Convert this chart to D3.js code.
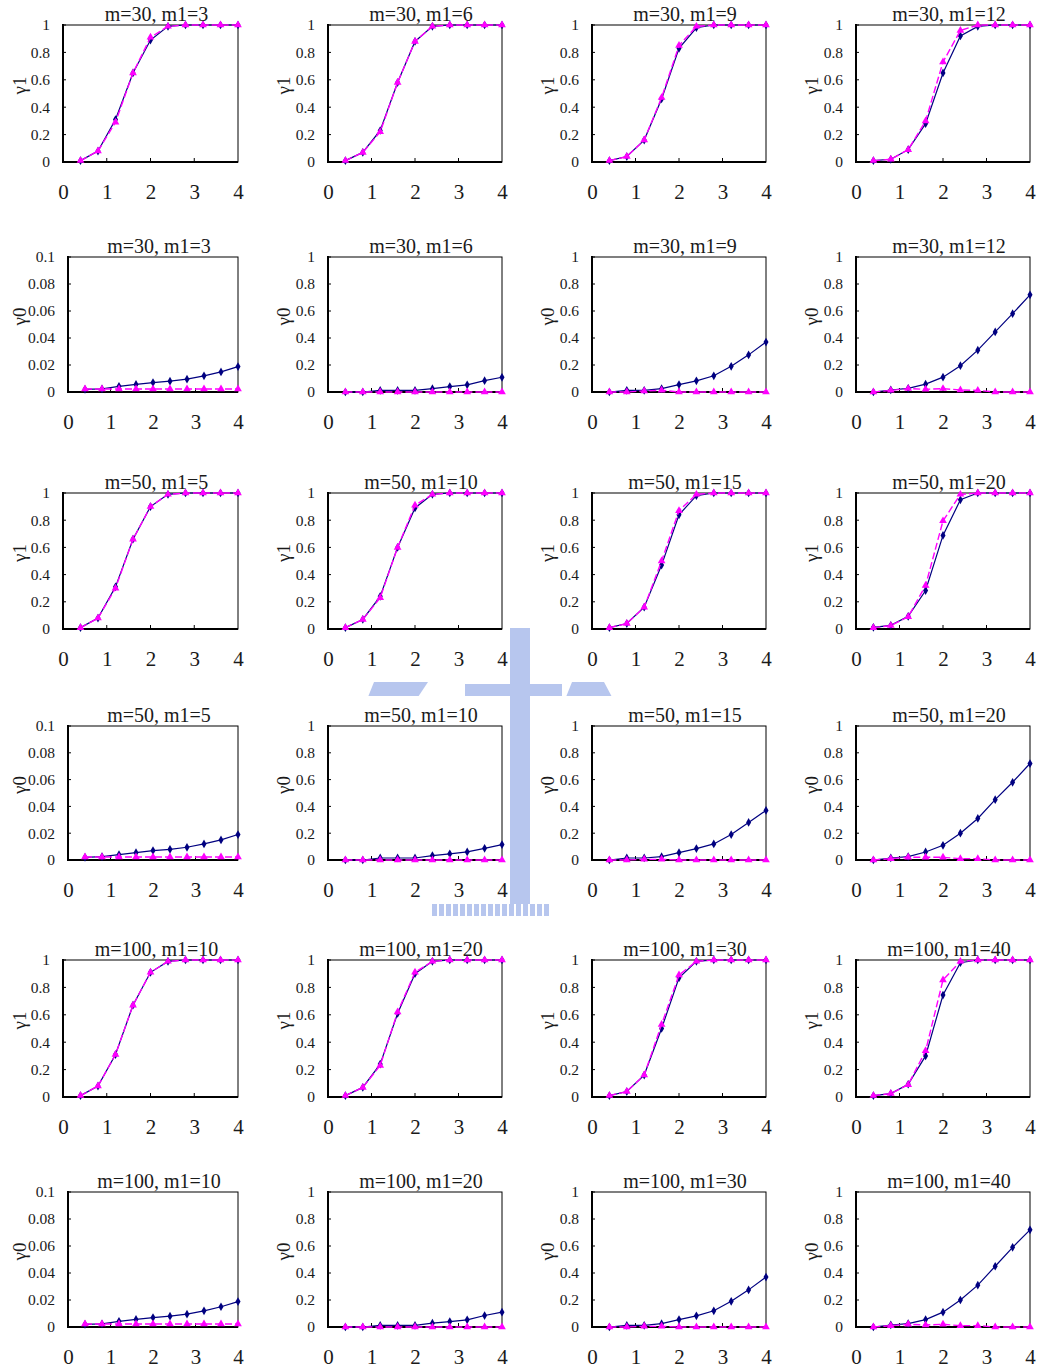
<!DOCTYPE html>
<html><head><meta charset="utf-8">
<script src="https://cdn.jsdelivr.net/npm/d3@7"></script>
<style>
body{margin:0;background:#fff}
svg{display:block}
text{font-family:"Liberation Serif","DejaVu Serif",serif;fill:#1a1a1a}
</style>
</head><body>
<svg id="c" width="1044" height="1371"></svg>
<script>
const xValues = [0.4,0.8,1.2,1.6,2.0,2.4,2.8,3.2,3.6,4.0];
const xTicks = [0,1,2,3,4];
const yTicksFull = [0,0.2,0.4,0.6,0.8,1];
const yTicksSmall = [0,0.02,0.04,0.06,0.08,0.1];
const mValues = [30,50,100];
const m1Values = [[3,6,9,12],[5,10,15,20],[10,20,30,40]];
const rowLabels = ["γ1","γ0","γ1","γ0","γ1","γ0"];

// m=30, gamma1
const r1Solid = [
  [0.01,0.08,0.31,0.65,0.89,0.99,1,1,1,1],
  [0.01,0.07,0.23,0.58,0.88,0.99,1,1,1,1],
  [0.01,0.04,0.16,0.46,0.83,0.98,1,1,1,1],
  [0.01,0.02,0.09,0.28,0.65,0.92,0.99,1,1,1]];
const r1Dashed = [
  [0.01,0.08,0.29,0.65,0.91,0.99,1,1,1,1],
  [0.01,0.07,0.22,0.58,0.88,0.99,1,1,1,1],
  [0.01,0.04,0.16,0.47,0.85,0.99,1,1,1,1],
  [0.01,0.02,0.09,0.30,0.73,0.96,1,1,1,1]];
// m=30, gamma0
const r2Solid = [
  [0.002,0.0023,0.0042,0.0056,0.007,0.008,0.0095,0.012,0.0149,0.0188],
  [0,0,0.012,0.012,0.012,0.025,0.04,0.053,0.084,0.109],
  [0,0.0125,0.012,0.025,0.055,0.083,0.12,0.19,0.275,0.37],
  [0,0.015,0.0275,0.058,0.11,0.195,0.31,0.445,0.58,0.72]];
const r2Dashed = [
  [0.0022,0.0022,0.0022,0.0022,0.0022,0.0022,0.0022,0.0022,0.0022,0.0022],
  [0,0,0,0,0,0,0,0,0,0],
  [0,0,0.008,0.013,0,0,0,0,0,0],
  [0,0.012,0.025,0.02,0.025,0.015,0.012,0,0,0]];
// m=50, gamma1
const r3Solid = [
  [0.01,0.08,0.31,0.66,0.90,0.99,1,1,1,1],
  [0.01,0.07,0.24,0.60,0.89,0.99,1,1,1,1],
  [0.01,0.04,0.16,0.47,0.84,0.98,1,1,1,1],
  [0.012,0.027,0.093,0.283,0.688,0.95,1,1,1,1]];
const r3Dashed = [
  [0.01,0.08,0.30,0.66,0.90,0.99,1,1,1,1],
  [0.01,0.07,0.23,0.60,0.91,0.99,1,1,1,1],
  [0.01,0.04,0.16,0.50,0.87,0.99,1,1,1,1],
  [0.01,0.025,0.09,0.32,0.795,0.99,1,1,1,1]];
// m=50, gamma0
const r4Solid = [
  [0.002,0.0025,0.004,0.0055,0.007,0.008,0.0095,0.012,0.015,0.019],
  [0,0,0.015,0.015,0.015,0.033,0.046,0.06,0.087,0.115],
  [0,0.015,0.015,0.025,0.055,0.085,0.12,0.19,0.28,0.37],
  [0,0.015,0.025,0.06,0.11,0.2,0.31,0.45,0.58,0.72]];
const r4Dashed = [
  [0.0022,0.0022,0.0022,0.0022,0.0022,0.0022,0.0022,0.0022,0.0022,0.0022],
  [0,0,0,0,0,0,0,0,0,0],
  [0,0,0.005,0.005,0,0,0,0,0,0],
  [0,0.01,0.02,0.02,0.02,0.01,0.01,0,0,0]];
// m=100, gamma1
const r5Solid = [
  [0.01,0.08,0.31,0.67,0.91,0.99,1,1,1,1],
  [0.01,0.07,0.24,0.61,0.90,0.99,1,1,1,1],
  [0.01,0.04,0.16,0.50,0.87,0.99,1,1,1,1],
  [0.01,0.025,0.093,0.30,0.744,0.98,1,1,1,1]];
const r5Dashed = [
  [0.01,0.08,0.31,0.67,0.91,0.99,1,1,1,1],
  [0.01,0.07,0.23,0.62,0.91,0.99,1,1,1,1],
  [0.01,0.04,0.16,0.53,0.89,0.99,1,1,1,1],
  [0.01,0.025,0.09,0.337,0.854,0.99,1,1,1,1]];
// m=100, gamma0
const r6Solid = [
  [0.002,0.0023,0.0042,0.0056,0.007,0.008,0.0095,0.012,0.015,0.0188],
  [0,0,0.012,0.012,0.012,0.028,0.04,0.053,0.085,0.11],
  [0,0.012,0.012,0.025,0.055,0.083,0.12,0.19,0.275,0.37],
  [0,0.015,0.025,0.055,0.11,0.2,0.31,0.45,0.59,0.72]];
const r6Dashed = [
  [0.0022,0.0022,0.0022,0.0022,0.0022,0.0022,0.0022,0.0022,0.0022,0.0022],
  [0,0,0,0,0,0,0,0,0,0],
  [0,0,0.005,0.005,0,0,0,0,0,0],
  [0,0.01,0.02,0.015,0.02,0.01,0.01,0,0,0]];

const solidRows = [r1Solid,r2Solid,r3Solid,r4Solid,r5Solid,r6Solid];
const dashedRows = [r1Dashed,r2Dashed,r3Dashed,r4Dashed,r5Dashed,r6Dashed];

// layout
const plotTops = [25,257,493,726,960,1192];
const plotHeights = [137,135,136,134,137,135];
const plotLefts = [63,328,592,856];
const plotRights = [238,502,766,1030];
const NAVY = "#000080", MAG = "#ff00ff";

const svg = d3.select("#c");

// faint watermark behind charts
const wm = svg.append("g").attr("fill","#b7c6ee");
wm.append("rect").attr("x",510).attr("y",628).attr("width",20).attr("height",276);
wm.append("polygon").attr("points","368,697 374,682 428,682 418,697");
wm.append("rect").attr("x",465).attr("y",684).attr("width",46).attr("height",13);
wm.append("rect").attr("x",530).attr("y",684).attr("width",32).attr("height",13);
wm.append("polygon").attr("points","566,697 572,682 604,682 612,697");
d3.range(432, 545, 7).forEach(px => {
  wm.append("rect").attr("x",px).attr("y",904).attr("width",5).attr("height",12);
});

for (let r = 0; r < 6; r++) {
  const isG0 = r % 2 === 1;
  const mi = Math.floor(r/2);
  for (let c = 0; c < 4; c++) {
    const small = isG0 && c === 0;
    const left = small ? plotLefts[c] + 5 : plotLefts[c];
    const right = plotRights[c];
    const top = plotTops[r];
    const bottom = top + plotHeights[r];
    const x = d3.scaleLinear().domain([0,4]).range([left,right]);
    const y = d3.scaleLinear().domain([0, small ? 0.1 : 1]).range([bottom, top]);
    const g = svg.append("g");

    // chart area background
    g.append("rect").attr("x",264*c+2).attr("y",top-30).attr("width",244).attr("height",206).attr("fill","#fff");

    // title
    g.append("text").attr("x",(left+right)/2+6).attr("y",top-4)
      .attr("text-anchor","middle").attr("font-size",20)
      .text(`m=${mValues[mi]}, m1=${m1Values[mi][c]}`);

    // y axis title
    g.append("text").attr("transform",`translate(${19+264*c},${(top+bottom)/2-8}) rotate(-90)`)
      .attr("text-anchor","middle").attr("dominant-baseline","central").attr("font-size",19)
      .text(rowLabels[r]);

    // axes labels
    const ya = g.append("g").attr("transform",`translate(${left},0)`)
      .call(d3.axisLeft(y).tickValues(small ? yTicksSmall : yTicksFull).tickSize(0).tickPadding(13).tickFormat(d => String(d)));
    ya.select(".domain").remove();
    ya.selectAll("text").attr("font-size",15.5).attr("font-family",null).attr("fill","#1a1a1a");

    const xa = g.append("g").attr("transform",`translate(0,${bottom})`)
      .call(d3.axisBottom(x).tickValues(xTicks).tickSize(0).tickPadding(22).tickFormat(d => String(d)));
    xa.select(".domain").remove();
    xa.selectAll("text").attr("font-size",21).attr("font-family",null).attr("fill","#1a1a1a");

    // frame
    g.append("rect").attr("x",left).attr("y",top).attr("width",right-left).attr("height",bottom-top)
      .attr("fill","none").attr("stroke","#000").attr("stroke-width",1);
    g.append("line").attr("x1",left).attr("x2",left).attr("y1",top-1).attr("y2",bottom+1)
      .attr("stroke","#000").attr("stroke-width",2);
    g.append("line").attr("x1",left-1).attr("x2",right).attr("y1",bottom).attr("y2",bottom)
      .attr("stroke","#000").attr("stroke-width",2);
    // inner x ticks
    g.selectAll("line.xt").data([1,2,3]).join("line").attr("class","xt")
      .attr("x1",d=>x(d)).attr("x2",d=>x(d)).attr("y1",bottom).attr("y2",bottom-4)
      .attr("stroke","#000").attr("stroke-width",1);
    // inner y ticks
    g.selectAll("line.yt").data(small ? yTicksSmall : yTicksFull).join("line").attr("class","yt")
      .attr("x1",left).attr("x2",left+3).attr("y1",d=>y(d)).attr("y2",d=>y(d))
      .attr("stroke","#000").attr("stroke-width",1);

    const solid = solidRows[r][c];
    const dashed = dashedRows[r][c];
    const line = d3.line().x((d,i)=>x(xValues[i])).y(d=>y(d));

    g.append("path").attr("d",line(solid)).attr("fill","none").attr("stroke",NAVY).attr("stroke-width",1.2);
    g.selectAll("path.sm").data(solid).join("path").attr("class","sm")
      .attr("transform",(d,i)=>`translate(${x(xValues[i])},${y(d)})`)
      .attr("d",d3.symbol(d3.symbolDiamond,22)).attr("fill",NAVY);

    g.append("path").attr("d",line(dashed)).attr("fill","none").attr("stroke",MAG).attr("stroke-width",1.4)
      .attr("stroke-dasharray","7,3");
    g.selectAll("path.dm").data(dashed).join("path").attr("class","dm")
      .attr("transform",(d,i)=>`translate(${x(xValues[i])},${y(d)})`)
      .attr("d",d3.symbol(d3.symbolTriangle,26)).attr("fill",MAG);
  }
}
</script>
</body></html>
